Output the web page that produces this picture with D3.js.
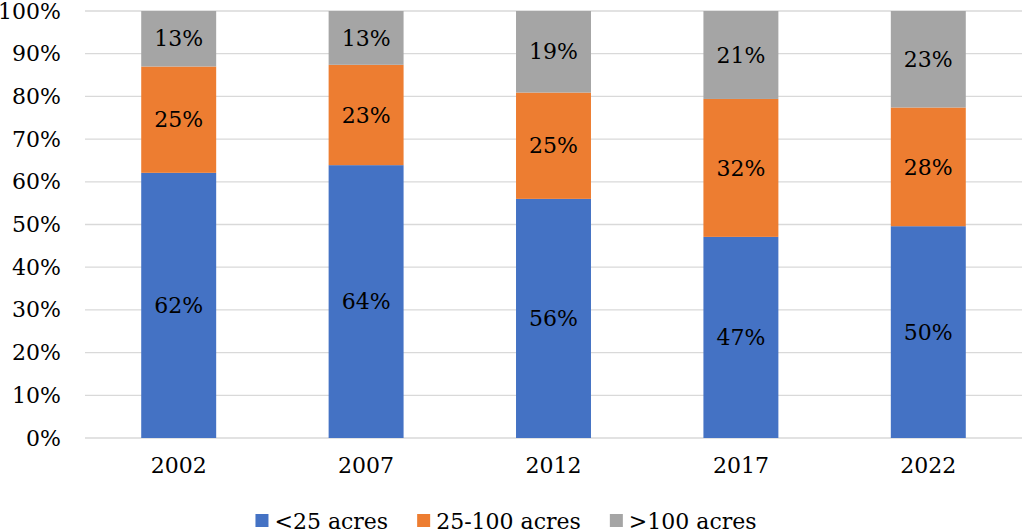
<!DOCTYPE html>
<html>
<head>
<meta charset="utf-8">
<script src="https://cdn.jsdelivr.net/npm/d3@7"></script>
<style>
  body { margin: 0; background: #fff; }
</style>
</head>
<body>
<svg id="chart" width="1024" height="530"></svg>
<script>
const years = ["2002", "2007", "2012", "2017", "2022"];
const seriesNames = ["<25 acres", "25-100 acres", ">100 acres"];
const small = [0.621, 0.639, 0.560, 0.471, 0.496];
const medium = [0.249, 0.235, 0.249, 0.323, 0.278];
const large = [0.130, 0.126, 0.191, 0.206, 0.226];
const smallLabels = ["62%", "64%", "56%", "47%", "50%"];
const mediumLabels = ["25%", "23%", "25%", "32%", "28%"];
const largeLabels = ["13%", "13%", "19%", "21%", "23%"];
const yTicks = [0, 0.1, 0.2, 0.3, 0.4, 0.5, 0.6, 0.7, 0.8, 0.9, 1];
const colors = ["#4472C4", "#ED7D31", "#A5A5A5"];

const FONT = "DejaVu Serif";
const FS = 22;

const svg = d3.select("#chart");
const margin = {top: 11, right: 2, bottom: 92, left: 85};
const width = 1024 - margin.left - margin.right;
const height = 530 - margin.top - margin.bottom;

const g = svg.append("g")
  .attr("transform", `translate(${margin.left}, ${margin.top})`);

const x = d3.scaleBand().domain(years).range([0, width]).paddingInner(0.6).paddingOuter(0.3);
const y = d3.scaleLinear().domain([0, 1]).range([height, 0]);

// gridlines
g.selectAll(".grid")
  .data(yTicks)
  .enter().append("line")
  .attr("x1", 0).attr("x2", width)
  .attr("y1", d => y(d)).attr("y2", d => y(d))
  .attr("stroke", "#d9d9d9")
  .attr("stroke-width", 1.3);

// y axis labels
const yAxis = g.append("g")
  .call(d3.axisLeft(y).tickValues(yTicks).tickFormat(d3.format(".0%")).tickSize(0).tickPadding(24))
  .attr("font-family", FONT)
  .attr("font-size", FS);
yAxis.select(".domain").remove();
yAxis.selectAll("text").attr("fill", "#000");

// x axis labels
const xAxis = g.append("g")
  .attr("transform", `translate(0, ${height})`)
  .call(d3.axisBottom(x).tickSize(0).tickPadding(19))
  .attr("font-family", FONT)
  .attr("font-size", FS);
xAxis.select(".domain").remove();
xAxis.selectAll("text").attr("fill", "#000");

const table = years.map((yr, i) => ({
  year: yr,
  s0: small[i], s1: medium[i], s2: large[i],
  l0: smallLabels[i], l1: mediumLabels[i], l2: largeLabels[i]
}));
const stack = d3.stack().keys(["s0", "s1", "s2"]);
const layers = stack(table);

const layerG = g.selectAll(".layer")
  .data(layers)
  .enter().append("g")
  .attr("fill", (d, i) => colors[i]);

layerG.selectAll("rect")
  .data(d => d)
  .enter().append("rect")
  .attr("x", d => x(d.data.year))
  .attr("y", d => y(d[1]))
  .attr("width", x.bandwidth())
  .attr("height", d => y(d[0]) - y(d[1]));

layers.forEach((layer, li) => {
  g.selectAll(".lbl" + li)
    .data(layer)
    .enter().append("text")
    .attr("x", d => x(d.data.year) + x.bandwidth() / 2)
    .attr("y", d => (y(d[0]) + y(d[1])) / 2)
    .attr("dy", "0.35em")
    .attr("text-anchor", "middle")
    .attr("font-family", FONT)
    .attr("font-size", FS)
    .attr("fill", "#000")
    .text(d => d.data["l" + li]);
});

// legend, laid out from measured text widths and centred like the original
const legend = svg.append("g");
const box = 13, boxGap = 6, itemGap = 29;
const items = seriesNames.map((name, i) => {
  const t = legend.append("text")
    .attr("y", 529)
    .attr("font-family", FONT)
    .attr("font-size", FS)
    .attr("fill", "#000")
    .text(name);
  const r = legend.append("rect")
    .attr("y", 514)
    .attr("width", box).attr("height", box)
    .attr("fill", colors[i]);
  return {t, r, w: t.node().getComputedTextLength()};
});
const total = d3.sum(items, d => box + boxGap + d.w) + itemGap * (items.length - 1);
let cx = 506 - total / 2;
items.forEach(d => {
  d.r.attr("x", cx);
  d.t.attr("x", cx + box + boxGap);
  cx += box + boxGap + d.w + itemGap;
});
</script>
</body>
</html>
